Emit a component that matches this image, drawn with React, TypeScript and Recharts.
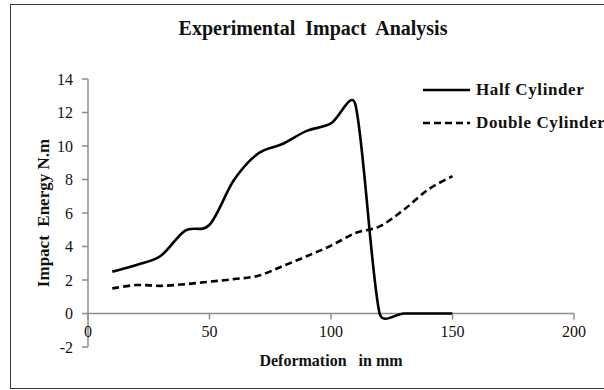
import { LineChart, Line, XAxis, YAxis, ReferenceLine, ReferenceDot } from 'recharts'

const FONT = "'Liberation Serif', 'Times New Roman', serif"
const AXIS_GRAY = '#8c8c8c'
const INK = '#111'

// deformation in mm
const deformation = [10, 20, 30, 40, 50, 60, 70, 80, 90, 100, 110, 120, 130, 140, 150]
const halfCylinder = [2.5, 2.9, 3.45, 4.95, 5.3, 7.95, 9.55, 10.12, 10.9, 11.35, 12.5, 0, 0, 0, 0]
const doubleCylinder = [1.5, 1.7, 1.65, 1.75, 1.9, 2.05, 2.25, 2.82, 3.42, 4.05, 4.8, 5.2, 6.2, 7.4, 8.2]

const xTicks = [0, 50, 100, 150, 200]
const yTicks = [-2, 0, 2, 4, 6, 8, 10, 12, 14]

const series = [
  { key: 'half', name: 'Half Cylinder', dash: undefined as string | undefined },
  { key: 'double', name: 'Double Cylinder', dash: '7 4' },
]

const rows = deformation.map((x, i) => ({ x, half: halfCylinder[i], double: doubleCylinder[i] }))

// spreadsheet-style smoothed line: cubic bezier, tangents (p2-p0)/6,
// handle length capped at half the segment
function smoothCurve(ctx: any) {
  let pts: number[][] = []
  const cap = (v: number[], max: number) => {
    const len = Math.hypot(v[0], v[1])
    return len > max && len > 0 ? [v[0] * max / len, v[1] * max / len] : v
  }
  return {
    areaStart() {},
    areaEnd() {},
    lineStart() { pts = [] },
    point(x: number, y: number) { pts.push([+x, +y]) },
    lineEnd() {
      const n = pts.length
      if (!n) return
      ctx.moveTo(pts[0][0], pts[0][1])
      for (let i = 0; i < n - 1; i++) {
        const p0 = pts[Math.max(i - 1, 0)]
        const p1 = pts[i]
        const p2 = pts[i + 1]
        const p3 = pts[Math.min(i + 2, n - 1)]
        const half = Math.hypot(p2[0] - p1[0], p2[1] - p1[1]) / 2
        const t1 = cap([(p2[0] - p0[0]) / 6, (p2[1] - p0[1]) / 6], half)
        const t2 = cap([(p3[0] - p1[0]) / 6, (p3[1] - p1[1]) / 6], half)
        ctx.bezierCurveTo(p1[0] + t1[0], p1[1] + t1[1], p2[0] - t2[0], p2[1] - t2[1], p2[0], p2[1])
      }
    },
  }
}

function XTick(props: any) {
  const { cx, cy, value } = props
  return (
    <g>
      <line x1={cx} x2={cx} y1={cy} y2={cy + 6} stroke={AXIS_GRAY} strokeWidth={1.5} />
      <text x={cx} y={cy + 20} textAnchor="middle" dominantBaseline="middle"
        style={{ fontFamily: FONT, fontSize: 16, fill: INK }}>{value}</text>
    </g>
  )
}

function LegendBox() {
  return (
    <div style={{ position: 'absolute', left: 423, top: 73, fontFamily: FONT, fontWeight: 'bold', fontSize: 17, letterSpacing: 0.6, color: INK, whiteSpace: 'nowrap' }}>
      {series.map(s => (
        <div key={s.key} style={{ display: 'flex', alignItems: 'center', height: 33 }}>
          <svg width={47} height={6}>
            <line x1={0} x2={47} y1={3} y2={3} stroke="#000" strokeWidth={2.6} strokeDasharray={s.dash} />
          </svg>
          <span style={{ marginLeft: 6 }}>{s.name}</span>
        </div>
      ))}
    </div>
  )
}

export default function App() {
  return (
    <div style={{ position: 'absolute', left: 0, top: 0, width: 604, height: 390, background: '#fff', overflow: 'hidden', fontFamily: FONT }}>
      {/* frame */}
      <div style={{ position: 'absolute', left: 10, top: 4, width: 640, height: 383, border: '1.5px solid #3a3a3a' }} />

      <div style={{ position: 'absolute', left: 11, top: 17, width: 604, textAlign: 'center', fontWeight: 'bold', fontSize: 20, color: INK, whiteSpace: 'pre' }}>
        {'Experimental  Impact  Analysis'}
      </div>

      <div style={{ position: 'absolute', left: 0, top: 0 }}>
        <LineChart width={604} height={390} data={rows} margin={{ top: 79, right: 30, bottom: 0, left: 0 }}>
          <XAxis dataKey="x" type="number" domain={[0, 200]} ticks={xTicks} tick={false} axisLine={false} tickLine={false}
            height={43}
            label={{ value: 'Deformation\u00a0\u00a0\u00a0in mm', position: 'insideBottom', offset: 24,
              style: { fontFamily: FONT, fontSize: 16, fontWeight: 'bold', fill: INK } }} />
          <YAxis type="number" domain={[-2, 14]} ticks={yTicks} width={88} interval={0}
            axisLine={{ stroke: AXIS_GRAY, strokeWidth: 1.5 }} tickLine={{ stroke: AXIS_GRAY, strokeWidth: 1.5 }}
            tickSize={6} tickMargin={9}
            tick={{ fontFamily: FONT, fontSize: 16, fill: INK }}
            label={{ value: 'Impact\u00a0\u00a0Energy N.m', angle: -90, position: 'insideLeft', offset: 43,
              style: { fontFamily: FONT, fontSize: 17, fontWeight: 'bold', fill: INK, textAnchor: 'middle' } }} />
          <ReferenceLine y={0} stroke={AXIS_GRAY} strokeWidth={1.5} />
          {xTicks.map(v => (
            <ReferenceDot key={v} x={v} y={0} ifOverflow="visible"
              shape={(p: any) => <XTick {...p} value={v} />} />
          ))}
          {series.map(s => (
            <Line key={s.key} dataKey={s.key} name={s.name} type={smoothCurve as any} stroke="#000" strokeWidth={2.6}
              strokeDasharray={s.dash} dot={false} activeDot={false} isAnimationActive={false} />
          ))}
        </LineChart>
      </div>

      <LegendBox />
    </div>
  )
}
